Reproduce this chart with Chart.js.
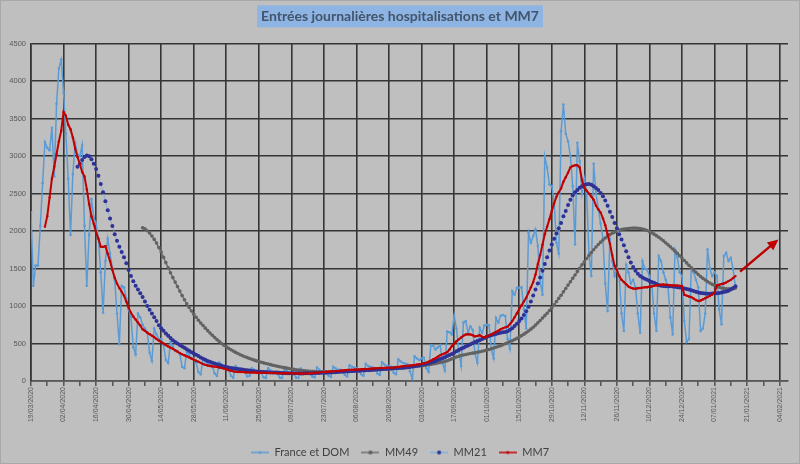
<!DOCTYPE html>
<html>
<head>
<meta charset="utf-8">
<script src="https://cdn.jsdelivr.net/npm/chart.js@4.4.1/dist/chart.umd.min.js"></script>
<style>
  html, body { margin: 0; padding: 0; background: #bfbfbf; }
  canvas { display: block; }
</style>
</head>
<body>
<canvas id="hosp_chart" width="800" height="464"></canvas>
<script>
// day 0 = 19/03/2020, one value per day
var START_DATE = Date.UTC(2020, 2, 19);
var X_MAX = 325.6;
var TITLE = 'Entrées journalières hospitalisations et MM7';

var FRANCE = [
  2250,1270,1540,1540,2070,2640,3190,
  3110,3080,3380,2730,3700,4170,4290,
  3850,3300,2700,1950,2760,3180,3020,
  3000,3150,2070,1270,1950,2430,2180,
  2100,1900,1450,910,1600,1900,1700,
  1500,1350,900,490,1270,1250,1100,
  950,850,450,356,900,850,750,
  700,650,380,268,700,620,560,
  560,480,280,240,520,460,400,
  400,360,190,170,400,350,300,
  300,250,120,90,300,260,230,
  220,200,100,67,250,220,190,
  170,150,70,45,200,170,140,
  140,120,60,67,170,150,120,
  120,110,50,40,170,140,120,
  110,100,45,40,160,140,110,
  105,95,45,40,165,130,110,
  100,95,60,50,180,150,130,
  130,120,70,55,190,170,150,
  150,140,80,60,210,190,180,
  170,150,90,70,230,200,190,
  180,170,100,80,250,220,200,
  200,190,110,90,290,260,240,
  230,220,130,30,330,300,280,
  300,310,170,120,480,470,420,
  450,480,240,140,660,650,620,
  870,700,400,200,780,800,650,
  730,680,360,245,710,640,740,
  750,743,420,300,845,780,870,
  880,867,560,430,1200,1150,1245,
  1245,1250,956,700,1978,1845,1934,
  2022,1800,1320,1150,3000,2845,2622,
  2600,2400,1845,1700,3334,3689,3300,
  3200,3000,2600,1822,3178,2933,2500,
  2700,2500,1700,1400,2900,2500,2300,
  2100,1900,1300,933,1900,1600,1400,
  1500,1400,900,667,1550,1450,1300,
  1350,1250,900,645,1600,1500,1489,
  1400,1300,900,667,1667,1600,1450,
  1350,1250,850,622,1750,1650,1450,
  1400,800,520,560,1500,1450,1350,
  1250,667,700,900,1756,1500,1400,
  1450,1400,956,756,1667,1711,1600,
  1645,1489,1250
];

var MM7_START = 6;
var MM7 = [
  2060,2200,2450,2700,2860,3030,3200,3340,3590,3540,
  3420,3360,3250,3100,2990,2900,2790,2730,2560,2360,
  2200,2100,1980,1900,1790,1790,1800,1700,1600,1480,
  1380,1300,1240,1190,1140,1060,980,910,860,820,
  780,740,690,670,645,625,605,585,560,540,
  520,500,480,462,445,430,412,392,372,356,
  343,330,315,300,285,270,256,242,226,215,
  206,200,195,192,188,180,172,165,156,145,
  136,129,124,121,120,119,117,115,113,112,
  112,111,111,110,110,109,108,107,106,106,
  105,104,104,103,103,102,102,101,100,100,
  99,99,100,101,103,105,108,111,115,119,
  121,123,125,127,129,132,135,138,141,144,
  147,149,151,152,154,155,156,158,160,162,
  165,167,169,171,173,174,175,176,177,178,
  181,185,189,192,196,200,204,208,211,215,
  219,223,228,236,245,256,272,290,305,325,
  345,358,370,385,420,465,500,530,556,580,
  605,620,625,622,610,595,600,612,590,585,
  595,605,620,640,655,672,690,705,715,725,
  760,800,850,905,960,1010,1060,1110,1180,1250,
  1320,1420,1560,1680,1820,1960,2060,2160,2270,2370,
  2460,2520,2570,2660,2720,2780,2850,2870,2880,2880,
  2850,2680,2580,2540,2500,2460,2420,2340,2290,2250,
  2170,2080,1960,1830,1680,1540,1480,1400,1350,1320,
  1290,1260,1245,1235,1232,1238,1242,1246,1250,1252,
  1258,1262,1270,1276,1280,1285,1289,1286,1282,1278,
  1276,1276,1274,1270,1265,1150,1140,1128,1120,1100,
  1080,1067,1075,1089,1105,1120,1135,1155,1178,1276,
  1285,1295,1302,1315,1333,1350,1375,1400
];

var MM21_START = 20;
var MM21 = [
  2860,2900,2950,2990,3010,3000,2960,2900,2830,2740,
  2630,2520,2400,2280,2170,2070,1960,1870,1790,1720,
  1650,1570,1480,1400,1330,1270,1220,1170,1120,1060,
  1000,950,900,850,800,745,705,670,635,605,
  575,545,520,500,480,462,445,425,405,385,
  368,350,333,315,298,283,268,256,245,234,
  222,212,203,195,187,180,174,169,164,160,
  156,152,148,144,139,135,131,128,125,123,
  121,119,117,115,114,113,112,110,108,106,
  105,104,103,102,102,102,101,101,102,103,
  104,105,106,107,108,109,110,111,112,114,
  116,118,120,122,124,126,128,130,132,134,
  136,138,140,142,144,146,148,150,152,155,
  158,160,162,164,166,168,170,172,174,176,
  178,181,184,188,193,198,203,208,214,222,
  230,238,246,256,268,280,292,305,318,332,
  346,360,378,396,414,430,445,460,475,490,
  505,520,535,545,560,575,590,600,610,620,
  628,636,643,650,655,665,685,705,735,765,
  800,835,880,930,990,1060,1140,1220,1300,1380,
  1470,1560,1650,1740,1820,1900,1970,2040,2110,2200,
  2270,2350,2420,2480,2520,2550,2580,2600,2615,2625,
  2630,2620,2600,2575,2550,2510,2465,2410,2340,2260,
  2190,2110,2040,1960,1890,1810,1730,1650,1580,1520,
  1470,1430,1400,1380,1365,1350,1335,1320,1310,1295,
  1280,1272,1268,1266,1265,1265,1262,1258,1252,1247,
  1242,1235,1228,1220,1212,1200,1190,1182,1176,1172,
  1168,1166,1166,1168,1170,1172,1175,1180,1187,1195,
  1205,1222,1240,1265
];

var MM49_START = 48;
var MM49 = [
  2045,2030,2005,1975,1935,1890,1840,1780,1720,1650,
  1580,1510,1445,1380,1320,1260,1200,1140,1085,1030,
  980,935,890,850,810,775,740,705,672,640,
  610,580,552,525,500,478,456,436,417,399,
  382,366,351,337,324,312,300,289,278,268,
  259,250,242,234,226,218,211,204,197,190,
  184,178,172,166,160,155,150,146,142,138,
  135,132,130,128,126,124,123,122,121,121,
  121,122,122,123,124,125,126,127,128,129,
  131,132,134,135,137,139,141,142,144,146,
  148,150,152,154,156,158,160,162,164,166,
  169,172,175,178,182,186,190,193,196,200,
  204,208,212,217,222,228,234,240,246,253,
  260,270,282,295,308,320,330,340,347,354,
  360,366,372,378,384,390,397,404,412,420,
  430,440,450,461,472,484,497,510,524,538,
  553,569,586,605,625,646,668,692,718,746,
  776,808,840,872,905,940,978,1018,1060,1102,
  1145,1190,1235,1280,1325,1370,1415,1460,1505,1550,
  1592,1634,1675,1714,1752,1788,1822,1853,1882,1908,
  1932,1953,1971,1987,2000,2011,2020,2027,2032,2036,
  2039,2040,2040,2039,2035,2029,2020,2008,1994,1978,
  1960,1940,1918,1895,1870,1844,1817,1790,1762,1733,
  1703,1672,1640,1608,1576,1544,1512,1481,1451,1422,
  1395,1370,1347,1326,1307,1290,1275,1262,1251,1242,
  1236,1232,1230,1230,1232,1240
];

// red trend arrow drawn after the last week (day, value)
var ARROW_FROM = [305, 1460];
var ARROW_TO = [321.5, 1890];

var TITLE_FONT = {family: 'Lato', size: 14, weight: 'bold'};
var TITLE_PAD = {top: 8, bottom: 19};
var GRID_COLOR = '#353535';

function dayLabel(d) {
  var dt = new Date(START_DATE + d * 86400000);
  var dd = String(dt.getUTCDate()).padStart(2, '0');
  var mm = String(dt.getUTCMonth() + 1).padStart(2, '0');
  return dd + '/' + mm + '/' + dt.getUTCFullYear();
}

function toPoints(values, start) {
  return values.map(function (v, i) { return {x: start + i, y: v}; });
}

// little line + marker picture for the legend
function legendIcon(lineColor, dotColor, dotRadius) {
  var c = document.createElement('canvas');
  c.width = 18;
  c.height = 8;
  var g = c.getContext('2d');
  g.strokeStyle = lineColor;
  g.lineWidth = 1.5;
  g.beginPath(); g.moveTo(0, 4); g.lineTo(18, 4); g.stroke();
  g.fillStyle = dotColor;
  g.beginPath(); g.arc(9, 4, dotRadius, 0, Math.PI * 2); g.fill();
  return c;
}

var chartBackground = {
  id: 'chartBackground',
  // centre title and legend on the whole picture, not only on the left part
  afterLayout: function (chart) {
    if (chart.titleBlock) chart.titleBlock.left = 12;
    if (chart.legend) chart.legend.left = 12;
  },
  beforeDraw: function (chart) {
    var ctx = chart.ctx;
    ctx.save();
    ctx.fillStyle = '#bfbfbf';
    ctx.fillRect(0, 0, chart.width, chart.height);
    ctx.strokeStyle = '#a8a8a8';
    ctx.lineWidth = 1;
    ctx.strokeRect(0.5, 0.5, chart.width - 1, chart.height - 1);
    // blue highlight behind the title
    var t = chart.titleBlock;
    if (t) {
      ctx.font = TITLE_FONT.weight + ' ' + TITLE_FONT.size + 'px ' + TITLE_FONT.family;
      var w = ctx.measureText(TITLE).width;
      var cx = (t.left + t.right) / 2;
      var cy = t.top + TITLE_PAD.top + TITLE_FONT.size * 0.6;
      ctx.fillStyle = '#8db4e2';
      ctx.fillRect(cx - w / 2 - 4, cy - 11, w + 8, 22);
    }
    ctx.restore();
  }
};

var trendArrow = {
  id: 'trendArrow',
  afterDatasetsDraw: function (chart) {
    var ctx = chart.ctx;
    var sx = chart.scales.x, sy = chart.scales.y;
    var x0 = sx.getPixelForValue(ARROW_FROM[0]), y0 = sy.getPixelForValue(ARROW_FROM[1]);
    var x1 = sx.getPixelForValue(ARROW_TO[0]), y1 = sy.getPixelForValue(ARROW_TO[1]);
    var a = Math.atan2(y1 - y0, x1 - x0);
    var head = 11, half = 5;
    var bx = x1 - head * Math.cos(a), by = y1 - head * Math.sin(a);
    ctx.save();
    ctx.strokeStyle = '#c00000';
    ctx.fillStyle = '#c00000';
    ctx.lineWidth = 2.5;
    ctx.beginPath();
    ctx.moveTo(x0, y0);
    ctx.lineTo(bx + 2 * Math.cos(a), by + 2 * Math.sin(a));
    ctx.stroke();
    ctx.beginPath();
    ctx.moveTo(x1, y1);
    ctx.lineTo(bx + half * Math.sin(a), by - half * Math.cos(a));
    ctx.lineTo(bx - half * Math.sin(a), by + half * Math.cos(a));
    ctx.closePath();
    ctx.fill();
    ctx.restore();
  }
};

Chart.defaults.font.family = 'Liberation Sans';

var icons = [
  legendIcon('#5b9bd5', '#5b9bd5', 1.6),
  legendIcon('#6e6e6e', '#5a5a5a', 2),
  legendIcon('#7fb0e0', '#2e3196', 2),
  legendIcon('#c00000', '#c00000', 1.6)
];

new Chart(document.getElementById('hosp_chart'), {
  type: 'line',
  data: {
    datasets: [
      {
        label: 'France et DOM',
        data: toPoints(FRANCE, 0),
        borderColor: '#5b9bd5',
        borderWidth: 1.5,
        pointRadius: 1.3,
        pointBorderWidth: 0,
        pointBackgroundColor: '#5b9bd5',
        order: 4
      },
      {
        label: 'MM49',
        data: toPoints(MM49, MM49_START),
        borderColor: '#707070',
        borderWidth: 1.5,
        pointRadius: 1.8,
        pointBorderWidth: 0,
        pointBackgroundColor: '#626262',
        order: 3
      },
      {
        label: 'MM21',
        data: toPoints(MM21, MM21_START),
        borderColor: 'rgba(120,170,225,0.8)',
        borderWidth: 1,
        pointRadius: 2,
        pointBorderWidth: 0,
        pointBackgroundColor: '#2e3196',
        order: 2
      },
      {
        label: 'MM7',
        data: toPoints(MM7, MM7_START),
        borderColor: '#c00000',
        borderWidth: 2,
        pointRadius: 1.2,
        pointBorderWidth: 0,
        pointBackgroundColor: '#c00000',
        order: 1
      }
    ]
  },
  options: {
    responsive: false,
    animation: false,
    devicePixelRatio: 1,
    layout: {padding: {left: 0, right: 12, top: 0, bottom: -4}},
    plugins: {
      title: {
        display: true,
        text: TITLE,
        color: '#44546a',
        font: TITLE_FONT,
        padding: TITLE_PAD
      },
      legend: {
        position: 'bottom',
        labels: {
          usePointStyle: true,
          pointStyleWidth: 18,
          padding: 12,
          color: '#404040',
          font: {family: 'Lato', size: 11},
          generateLabels: function (chart) {
            return chart.data.datasets.map(function (ds, i) {
              return {
                text: ds.label,
                pointStyle: icons[i],
                fontColor: '#404040',
                datasetIndex: i,
                hidden: false,
                lineWidth: 0,
                strokeStyle: 'rgba(0,0,0,0)',
                fillStyle: 'rgba(0,0,0,0)'
              };
            });
          }
        }
      },
      tooltip: {enabled: false}
    },
    scales: {
      x: {
        type: 'linear',
        min: 0,
        max: X_MAX,
        afterBuildTicks: function (scale) {
          scale.ticks = scale.ticks.filter(function (t) { return t.value % 7 === 0; });
        },
        afterFit: function (scale) { scale.height = 54; },
        ticks: {
          stepSize: 7,
          autoSkip: false,
          minRotation: 90,
          maxRotation: 90,
          padding: 1,
          color: '#595959',
          font: {size: 7},
          callback: function (value) {
            return value % 14 === 0 ? dayLabel(value) : '';
          }
        },
        grid: {
          color: function (c) {
            return c.tick && c.tick.value % 14 === 0 ? GRID_COLOR : 'rgba(0,0,0,0)';
          },
          lineWidth: 1.6,
          tickColor: '#595959',
          tickLength: 5
        },
        border: {color: '#595959', width: 1.4}
      },
      y: {
        min: 0,
        max: 4500,
        afterFit: function (scale) { scale.width = 31; },
        ticks: {
          stepSize: 500,
          padding: 5,
          color: '#595959',
          font: {size: 7.5},
          callback: function (value) { return String(value); }
        },
        grid: {color: GRID_COLOR, lineWidth: 1.6, drawTicks: false},
        border: {color: GRID_COLOR, width: 1.6}
      }
    }
  },
  plugins: [chartBackground, trendArrow]
});
</script>
</body>
</html>
